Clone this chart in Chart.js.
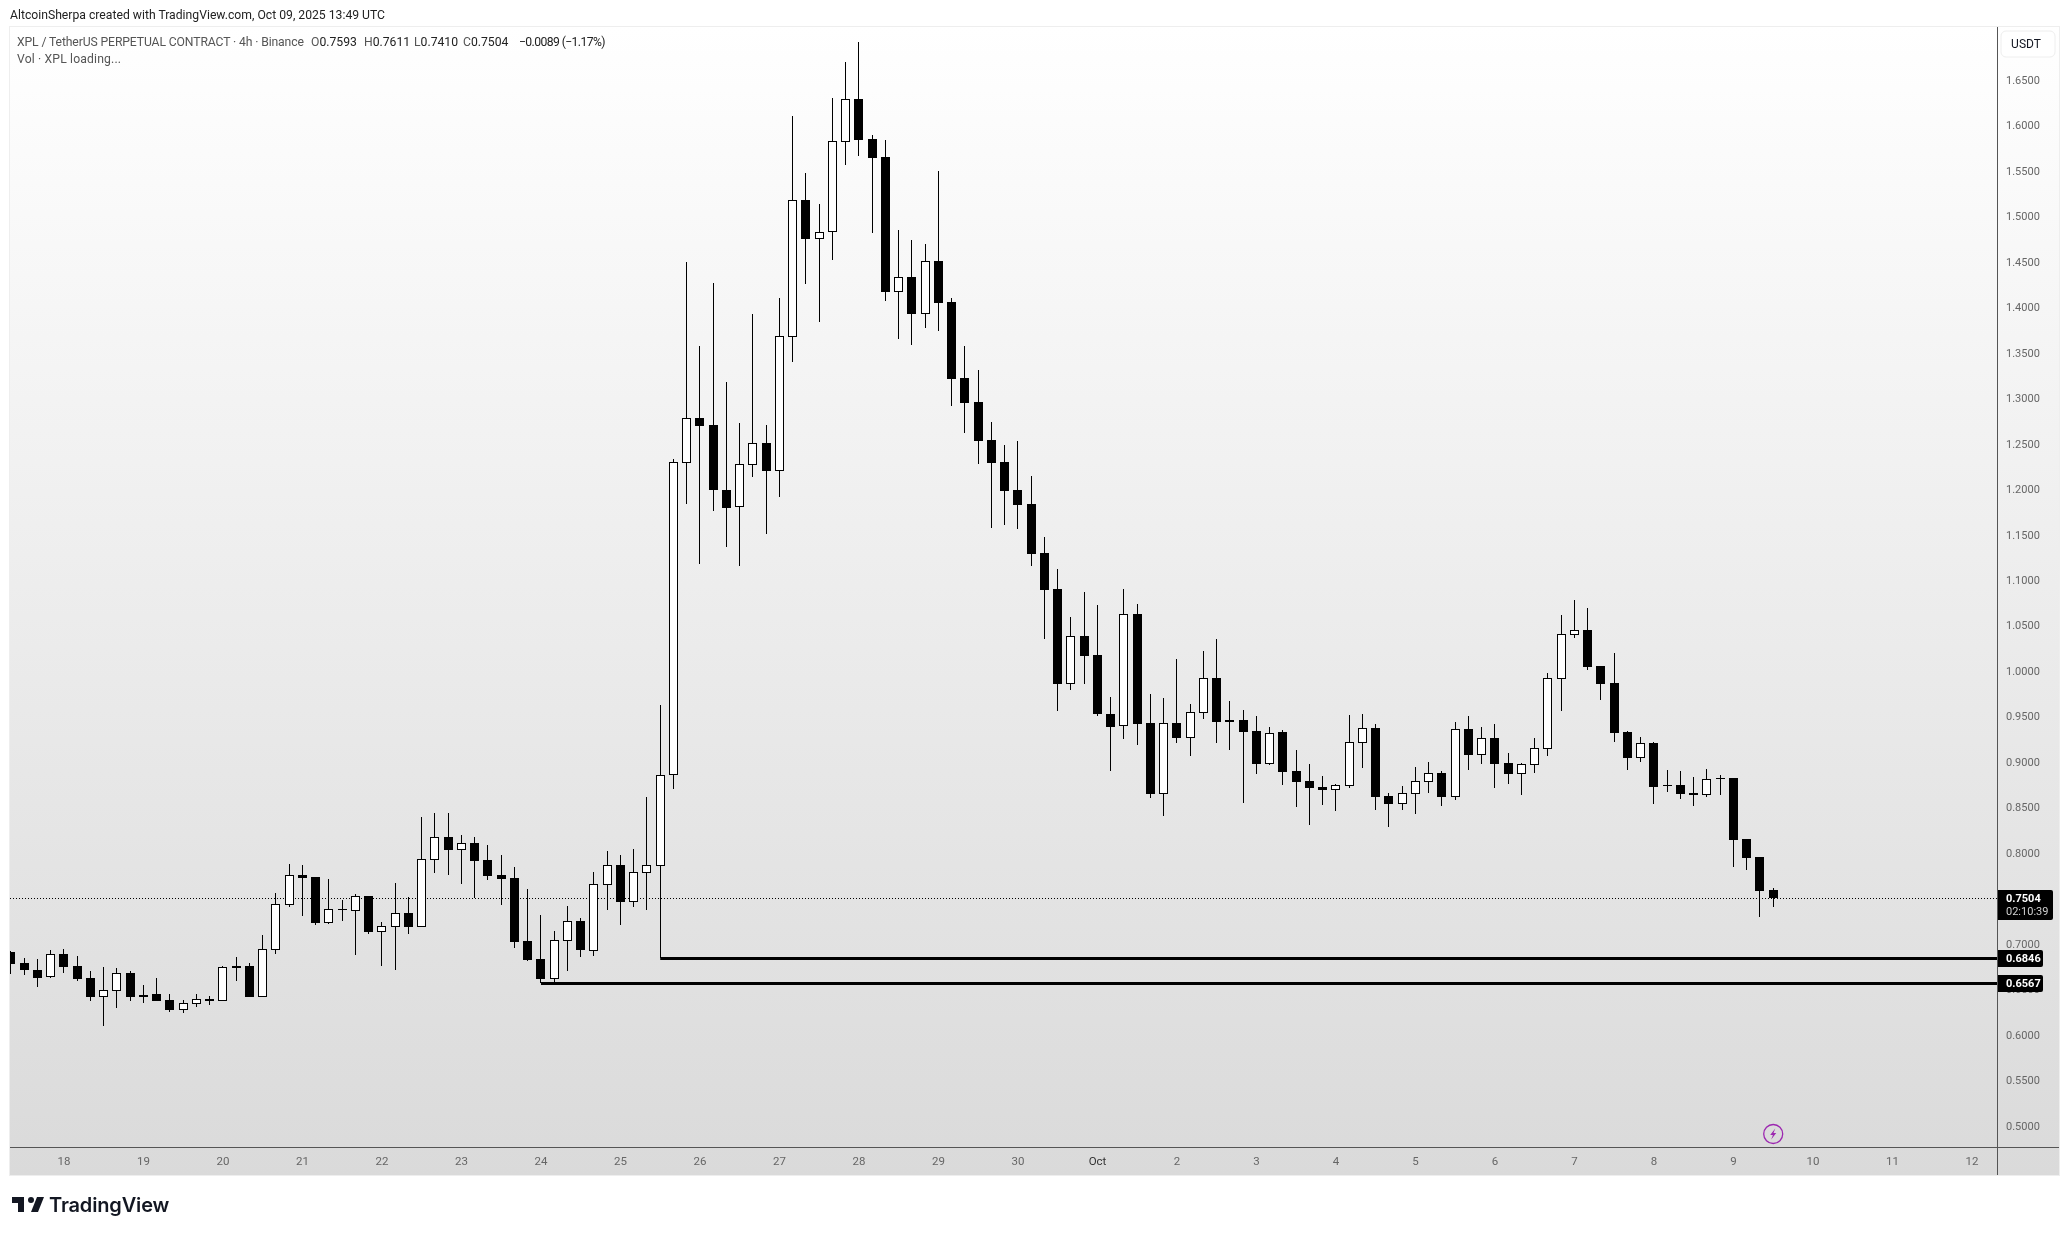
<!DOCTYPE html>
<html lang="en">
<head>
  <meta charset="UTF-8">
  <title>XPL / TetherUS PERPETUAL CONTRACT</title>
  <script src="https://cdnjs.cloudflare.com/ajax/libs/Chart.js/4.4.1/chart.umd.min.js"></script>
  <style>
    html, body { margin: 0; padding: 0; background: #fff; overflow: hidden; }
    #wrap { position: relative; width: 2069px; height: 1235px; }
    canvas { position: absolute; left: 0; top: 0; }
    .t { position: absolute; white-space: nowrap; font-family: Roboto, sans-serif; font-size: 12.2px; line-height: 14px; color: #555; }
    .t b { font-weight: normal; color: #222; }
    #brand { position: absolute; left: 49px; top: 1193px; font-family: Inter, sans-serif; font-weight: 600; font-size: 20px; line-height: 24px; color: #131722; letter-spacing: -0.15px; }
    #logo { position: absolute; left: 10px; top: 1191px; }
  </style>
</head>
<body>
<div id="wrap">
  <canvas id="chart" width="2069" height="1235"></canvas>
  <div class="t" style="left:10px;top:8px;color:#222">AltcoinSherpa created with TradingView.com, Oct 09, 2025 13:49 UTC</div>
  <div class="t" style="left:17px;top:35px;letter-spacing:-0.12px">XPL / TetherUS PERPETUAL CONTRACT · 4h · Binance</div>
  <div class="t" style="left:311px;top:35px">O<b>0.7593</b></div>
  <div class="t" style="left:364px;top:35px">H<b>0.7611</b></div>
  <div class="t" style="left:414px;top:35px">L<b>0.7410</b></div>
  <div class="t" style="left:463px;top:35px">C<b>0.7504</b></div>
  <div class="t" style="left:519px;top:35px;letter-spacing:-0.6px"><b>−0.0089 (−1.17%)</b></div>
  <div class="t" style="left:17px;top:52px;letter-spacing:0.15px">Vol · XPL loading...</div>
  <svg id="logo" width="36" height="28" viewBox="0 0 36 28"><path fill="#131722" d="M14 6H2v6h6v9h6V6Zm14 15h-7l6-15h7l-6 15Zm-7-9a3 3 0 1 0 0-6 3 3 0 0 0 0 6Z"/></svg>
  <div id="brand">TradingView</div>
</div>
<script>
// 4h candles
const opens = [
  .6912,.6791,.6714,.6641,.6890,.6758,.6626,.6421,.6487,.6681,
  .6439,.6450,.6384,.6278,.6344,.6395,.6377,.6758,.6758,.6421,
  .6938,.7432,.7759,.7737,.7235,.7385,.7367,.7528,.7136,.7191,
  .7341,.7191,.7927,.8176,.8037,.8110,.7924,.7759,.7726,.7033,
  .6835,.6619,.7037,.7253,.6927,.7652,.7869,.7465,.7784,.7861,
  .8858,1.2292,1.2783,1.2706,1.1992,1.1808,1.2270,1.2508,1.2204,1.3677,
  1.5180,1.4755,1.4825,1.5821,1.6291,1.5851,1.5653,1.4172,1.4334,1.3930,
  1.4510,1.4059,1.3223,1.2959,1.2541,1.2300,1.1992,1.1838,1.1299,1.0903,
  .9862,1.0386,1.0178,.9529,.9400,1.0628,.9430,.8652,.9430,.9268,
  .9543,.9925,.9463,.9463,.9342,.8982,.9331,.8902,.8792,.8726,
  .8697,.8741,.9213,.9375,.8627,.8543,.8653,.8785,.8880,.8620,
  .9364,.9081,.9265,.8990,.8872,.8971,.9147,.9917,1.0401,1.0452,
  1.0057,.9870,.9331,.9048,.9210,.8745,.8748,.8660,.8642,.8817,
  .8825,.8154,.7957,.7593
];
const highs = [
  .6919,.6846,.6835,.6934,.6945,.6868,.6703,.6747,.6736,.6703,
  .6549,.6626,.6450,.6384,.6450,.6428,.6758,.6857,.6791,.7099,
  .7561,.7880,.7869,.7737,.7715,.7484,.7550,.7528,.7242,.7671,
  .7517,.8396,.8440,.8440,.8198,.8176,.8089,.7979,.7847,.7605,
  .7319,.7143,.7418,.7286,.7792,.8023,.7979,.8045,.8616,.9632,
  1.2333,1.4499,1.3575,1.4268,1.3179,1.2728,1.3927,1.2706,1.4103,1.6104,
  1.5477,1.5136,1.6302,1.6698,1.6917,1.5895,1.5840,1.4850,1.4740,1.4697,
  1.5499,1.4103,1.3575,1.3311,1.2739,1.2487,1.2530,1.2146,1.1475,1.1123,
  1.0595,1.0870,1.0727,.9716,1.0903,1.0738,.9749,.9705,1.0134,.9639,
  1.0222,1.0353,.9672,.9573,.9507,.9386,.9353,.9133,.8979,.8847,
  .8759,.9518,.9529,.9419,.8660,.8737,.8946,.9001,.8902,.9441,
  .9507,.9386,.9419,.9100,.8990,.9265,.9980,1.0617,1.0782,1.0694,
  1.0057,1.0200,.9342,.9276,.9221,.8913,.8902,.8836,.8924,.8858,
  .8825,.8154,.7957,.7611
];
const lows = [
  .6670,.6659,.6527,.6626,.6681,.6593,.6373,.6098,.6296,.6373,
  .6351,.6373,.6252,.6241,.6307,.6329,.6377,.6593,.6417,.6421,
  .6890,.7407,.7308,.7209,.7220,.7253,.6879,.7110,.6758,.6714,
  .7110,.7191,.7781,.7759,.7660,.7502,.7704,.7429,.6956,.6813,
  .6568,.6568,.6703,.6857,.6868,.7374,.7209,.7407,.7374,.6846,
  .8708,1.1838,1.1178,1.1761,1.1365,1.1156,1.2135,1.1508,1.1915,1.3402,
  1.4257,1.3839,1.4521,1.5565,1.5664,1.4817,1.4070,1.3652,1.3586,1.3773,
  1.3740,1.2915,1.2618,1.2278,1.1574,1.1607,1.1563,1.1156,1.0353,.9562,
  .9793,.9859,.9507,.8902,.9254,.9188,.8605,.8407,.9210,.9067,
  .9474,.9210,.9133,.8550,.8869,.8968,.8748,.8506,.8308,.8528,
  .8462,.8715,.8935,.8473,.8286,.8473,.8429,.8660,.8517,.8583,
  .8913,.8979,.8715,.8759,.8638,.8880,.9067,.9562,1.0364,1.0013,
  .9683,.9221,.8913,.9001,.8539,.8671,.8594,.8517,.8616,.8638,
  .7847,.7814,.7297,.7410
];
const closes = [
  .6780,.6714,.6626,.6886,.6747,.6615,.6417,.6491,.6677,.6417,
  .6417,.6373,.6274,.6348,.6392,.6373,.6743,.6736,.6417,.6941,
  .7436,.7755,.7726,.7231,.7381,.7377,.7524,.7132,.7194,.7337,
  .7187,.7931,.8173,.8034,.8107,.7913,.7748,.7715,.7022,.6824,
  .6615,.7040,.7249,.6934,.7656,.7865,.7462,.7788,.7865,.8858,
  1.2296,1.2780,1.2695,1.1992,1.1794,1.2274,1.2505,1.2201,1.3682,1.5177,
  1.4751,1.4825,1.5826,1.6288,1.5840,1.5642,1.4169,1.4330,1.3927,1.4506,
  1.4048,1.3212,1.2948,1.2530,1.2289,1.1981,1.1827,1.1288,1.0892,.9859,
  1.0383,1.0167,.9529,.9386,1.0625,.9419,.8649,.9427,.9265,.9548,
  .9921,.9441,.9441,.9331,.8979,.9317,.8891,.8781,.8715,.8693,
  .8745,.9218,.9372,.8616,.8539,.8657,.8789,.8877,.8616,.9361,
  .9078,.9262,.8979,.8869,.8976,.9152,.9921,1.0405,1.0449,1.0046,
  .9859,.9320,.9045,.9207,.8726,.8741,.8649,.8638,.8811,.8822,
  .8143,.7946,.7583,.7504
];

const priceTicks = [.50,.55,.60,.65,.70,.75,.80,.85,.90,.95,1.00,1.05,1.10,1.15,1.20,1.25,1.30,1.35,1.40,1.45,1.50,1.55,1.60,1.65];
const dayLabels = ['18','19','20','21','22','23','24','25','26','27','28','29','30','Oct','2','3','4','5','6','7','8','9','10','11','12'];
const dayTickIndex = dayLabels.map((d, n) => 4 + n * 6); // first 00:00 candle is the 5th one

const levelHigh = 0.6846, levelHighFrom = 49;
const levelLow = 0.6567, levelLowFrom = 40;
const lastPrice = closes[closes.length - 1];
const countdown = '02:10:39';

const X_MIN = -0.075, X_MAX = 149.89;
const Y_MIN = 0.4768, Y_MAX = 1.7083;

const wicks = highs.map((h, i) => ({ x: i, y: [lows[i], h] }));
const bodies = opens.map((o, i) => ({ x: i, y: [o, closes[i]] }));
const bodyColors = opens.map((o, i) => closes[i] >= o ? '#ffffff' : '#000000');

// frame, gradient and the bits TradingView paints on top of the axes
const framePlugin = {
  id: 'frame',
  beforeDraw(chart) {
    const c = chart.ctx;
    const g = c.createLinearGradient(0, 27, 0, 1175);
    g.addColorStop(0, '#ffffff');
    g.addColorStop(1, '#dadada');
    c.fillStyle = g;
    c.fillRect(10, 27, 2049, 1148);
    c.strokeStyle = '#eeeeee';
    c.lineWidth = 1;
    c.strokeRect(9.5, 26.5, 2050, 1149);
  },
  afterDraw(chart) {
    const c = chart.ctx, y = chart.scales.y, x = chart.scales.x;
    c.save();
    c.fillStyle = '#555555';
    c.fillRect(1997, 27, 1, 1148);
    c.fillRect(10, 1147, 2049, 1);

    // USDT button
    c.fillStyle = '#ffffff';
    c.strokeStyle = '#eeeeee';
    c.beginPath();
    c.roundRect(2001, 31, 54, 26, 5);
    c.fill();
    c.stroke();
    c.fillStyle = '#131722';
    c.font = '12px Roboto';
    c.textAlign = 'center';
    c.textBaseline = 'middle';
    c.fillText('USDT', 2026, 44.5);

    // price tags
    c.textAlign = 'left';
    const tag = (v, h, w) => {
      const py = Math.round(y.getPixelForValue(v));
      c.fillStyle = '#000000';
      c.beginPath();
      c.roundRect(1998, py - 8, w, h, [0, 2, 2, 0]);
      c.fill();
      return py;
    };
    let py = tag(levelHigh, 17, 45);
    c.fillStyle = '#ffffff';
    c.font = 'bold 11px Roboto';
    c.fillText(levelHigh.toFixed(4), 2006, py + 1.5);
    py = tag(levelLow, 17, 45);
    c.fillStyle = '#ffffff';
    c.fillText(levelLow.toFixed(4), 2006, py + 1.5);
    py = tag(lastPrice, 30, 55);
    c.fillStyle = '#ffffff';
    c.fillText(lastPrice.toFixed(4), 2006, py + 1.5);
    c.fillStyle = '#d0d0d0';
    c.font = '11px Roboto';
    c.fillText(countdown, 2006, py + 14.5);

    // purple marker under the last candle
    const mx = x.getPixelForValue(closes.length - 1);
    c.strokeStyle = '#9c27b0';
    c.lineWidth = 1.3;
    c.beginPath();
    c.arc(mx, 1134, 9.5, 0, Math.PI * 2);
    c.stroke();
    c.fillStyle = '#9c27b0';
    c.beginPath();
    c.moveTo(mx + 2, 1128.5);
    c.lineTo(mx - 3, 1135);
    c.lineTo(mx - 0.3, 1135);
    c.lineTo(mx - 2, 1139.5);
    c.lineTo(mx + 3, 1133);
    c.lineTo(mx + 0.3, 1133);
    c.closePath();
    c.fill();
    c.restore();
  }
};

// put candles and lines on whole pixels so they stay crisp
const snapPlugin = {
  id: 'snap',
  afterDatasetsUpdate(chart) {
    chart.data.datasets.forEach((ds, k) => {
      const meta = chart.getDatasetMeta(k);
      meta.data.forEach(el => {
        if (ds.type === 'line') {
          el.y = Math.floor(el.y) + 0.5;
        } else {
          el.x = Math.floor(el.x) + 0.5;
          const a = Math.round(el.y), b = Math.round(el.base);
          el.y = a;
          el.base = a === b ? b + 1 : b;
        }
      });
    });
  }
};

new Chart(document.getElementById('chart'), {
  type: 'bar',
  data: {
    datasets: [
      {
        type: 'line', order: 5,
        data: [{ x: X_MIN, y: lastPrice }, { x: X_MAX, y: lastPrice }],
        borderColor: '#000000', borderWidth: 1, borderDash: [1, 2], pointRadius: 0
      },
      {
        type: 'bar', order: 3, data: wicks,
        backgroundColor: '#000000', barThickness: 1, inflateAmount: 0
      },
      {
        type: 'bar', order: 2, data: bodies,
        backgroundColor: bodyColors, borderColor: '#000000', borderWidth: 1,
        borderSkipped: false, barThickness: 9, inflateAmount: 0
      },
      {
        type: 'line', order: 1,
        data: [{ x: levelHighFrom, y: levelHigh }, { x: X_MAX, y: levelHigh }],
        borderColor: '#000000', borderWidth: 3, pointRadius: 0
      },
      {
        type: 'line', order: 1,
        data: [{ x: levelLowFrom, y: levelLow }, { x: X_MAX, y: levelLow }],
        borderColor: '#000000', borderWidth: 3, pointRadius: 0
      }
    ]
  },
  options: {
    responsive: false,
    animation: false,
    events: [],
    layout: { padding: { left: 10, top: 27, right: 0, bottom: 0 } },
    plugins: { legend: { display: false }, tooltip: { enabled: false } },
    datasets: { bar: { grouped: false } },
    scales: {
      x: {
        type: 'linear', min: X_MIN, max: X_MAX, offset: false,
        grid: { display: false, drawTicks: false },
        border: { display: false },
        afterBuildTicks: ax => { ax.ticks = dayTickIndex.map(v => ({ value: v })); },
        afterFit: ax => { ax.height = 88; },
        ticks: {
          autoSkip: false, maxRotation: 0, padding: 8,
          color: ctx => dayLabels[ctx.index] === 'Oct' ? '#333333' : '#666666',
          font: { family: 'Roboto', size: 11.5 },
          callback: (v, i) => dayLabels[i]
        }
      },
      y: {
        type: 'linear', position: 'right', min: Y_MIN, max: Y_MAX,
        grid: { display: false, drawTicks: false },
        border: { display: false },
        afterBuildTicks: ax => { ax.ticks = priceTicks.map(v => ({ value: v })); },
        afterFit: ax => { ax.width = 72; },
        ticks: {
          autoSkip: false, padding: 9, labelOffset: 1, color: '#666666',
          font: { family: 'Roboto', size: 11 },
          callback: v => v.toFixed(4)
        }
      }
    }
  },
  plugins: [framePlugin, snapPlugin]
});
</script>
</body>
</html>
